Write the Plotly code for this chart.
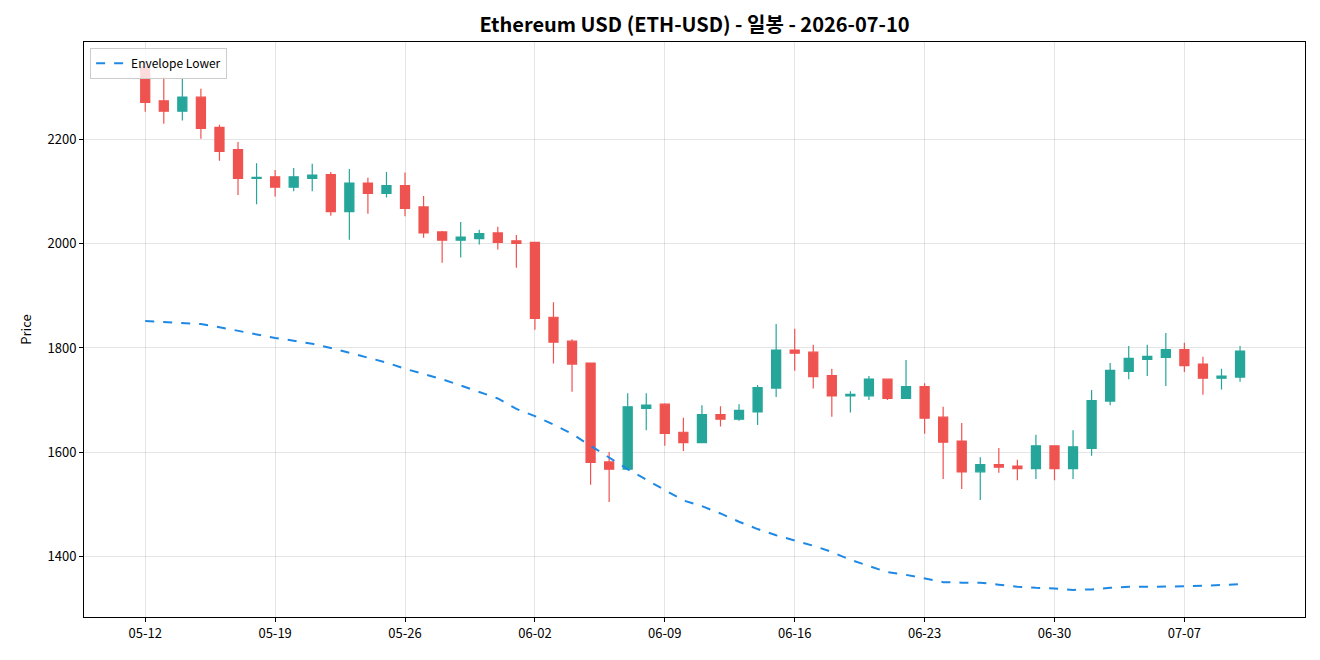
import plotly.graph_objects as go
import pandas as pd

dates = pd.date_range("2026-05-12", "2026-07-10", freq="D")

opens = [2340, 2275, 2255, 2282, 2224, 2181, 2126, 2129, 2109, 2126,
         2133, 2062, 2117, 2097, 2112, 2071, 2023, 2007, 2010, 2021,
         2006, 2003, 1859, 1813, 1771, 1581, 1567, 1684, 1692, 1638,
         1618, 1672, 1663, 1677, 1723, 1796, 1792, 1747, 1708, 1708,
         1740, 1703, 1726, 1667, 1621, 1562, 1576, 1573, 1568, 1612,
         1568, 1607, 1698, 1755, 1778, 1782, 1797, 1769, 1742, 1744]
highs = [2352, 2321, 2317, 2298, 2229, 2196, 2155, 2142, 2146, 2154,
         2138, 2144, 2127, 2138, 2137, 2092, 2025, 2042, 2027, 2033,
         2017, 2004, 1888, 1817, 1772, 1600, 1713, 1713, 1694, 1666,
         1690, 1688, 1692, 1729, 1846, 1837, 1806, 1760, 1717, 1746,
         1740, 1777, 1732, 1687, 1656, 1590, 1608, 1585, 1633, 1612,
         1642, 1719, 1771, 1804, 1806, 1829, 1810, 1783, 1760, 1804]
lows = [2254, 2231, 2237, 2202, 2160, 2094, 2076, 2091, 2101, 2101,
        2054, 2008, 2058, 2089, 2053, 2012, 1964, 1974, 1999, 1989,
        1954, 1835, 1770, 1716, 1537, 1504, 1565, 1642, 1612, 1602,
        1617, 1649, 1660, 1652, 1706, 1756, 1722, 1668, 1676, 1700,
        1700, 1702, 1635, 1548, 1529, 1508, 1560, 1546, 1548, 1546,
        1548, 1593, 1690, 1740, 1746, 1727, 1754, 1710, 1720, 1735]
closes = [2272, 2255, 2282, 2222, 2178, 2126, 2128, 2109, 2129, 2132,
          2062, 2117, 2097, 2112, 2068, 2021, 2007, 2013, 2020, 2003,
          2001, 1857, 1811, 1769, 1580, 1567, 1687, 1690, 1636, 1618,
          1672, 1663, 1680, 1724, 1796, 1790, 1745, 1708, 1711, 1740,
          1703, 1726, 1665, 1619, 1562, 1576, 1571, 1568, 1612, 1568,
          1610, 1699, 1757, 1780, 1784, 1797, 1766, 1742, 1746, 1794]

env_lower = [1852, 1850, 1848, 1846, 1840, 1833, 1826, 1819, 1814, 1808,
             1800, 1791, 1782, 1772, 1760, 1750, 1740, 1728, 1716, 1703,
             1683, 1669, 1653, 1635, 1612, 1590, 1567, 1547, 1527, 1507,
             1496, 1482, 1466, 1452, 1440, 1430, 1420, 1408, 1393, 1381,
             1369, 1364, 1357, 1350, 1349, 1349, 1345, 1341, 1339, 1338,
             1335, 1336, 1339, 1341, 1341, 1341, 1342, 1343, 1344, 1346]

tick_vals = pd.date_range("2026-05-12", "2026-07-07", freq="7D")
tick_text = [d.strftime("%m-%d") for d in tick_vals]
y_ticks = [1400, 1600, 1800, 2000, 2200]

fig = go.Figure()
fig.add_trace(go.Candlestick(
    x=dates, open=opens, high=highs, low=lows, close=closes,
    increasing=dict(line=dict(color="#26a69a", width=1.2), fillcolor="#26a69a"),
    decreasing=dict(line=dict(color="#ef5350", width=1.2), fillcolor="#ef5350"),
    whiskerwidth=0, showlegend=False, name="ETH-USD",
))
fig.add_trace(go.Scatter(
    x=dates, y=env_lower, mode="lines", name="Envelope Lower",
    line=dict(color="#1e88e5", width=2, dash="dash"),
))

font_family = "Noto Sans CJK KR, Noto Sans, DejaVu Sans, sans-serif"
fig.update_layout(
    width=1320, height=660,
    margin=dict(l=84, r=15, t=42, b=43),
    paper_bgcolor="white", plot_bgcolor="white",
    font=dict(family=font_family, size=13, color="#000"),
    title=dict(text="<b>Ethereum USD (ETH-USD) - 일봉 - 2026-07-10</b>",
               x=0.5, xref="paper", xanchor="center", y=0.962, yanchor="middle",
               font=dict(size=20, family=font_family)),
    legend=dict(x=0.005, y=0.99, xanchor="left", yanchor="top",
                bgcolor="rgba(255,255,255,0.8)", bordercolor="#cccccc", borderwidth=1,
                font=dict(size=12)),
    xaxis=dict(
        type="date", rangeslider=dict(visible=False),
        range=["2026-05-08 16:48", "2026-07-13 12:00"],
        tickvals=list(tick_vals), ticktext=tick_text,
        showgrid=True, gridcolor="rgba(0,0,0,0.1)", gridwidth=1,
        showline=True, linecolor="black", linewidth=1, mirror=True,
        ticks="outside", ticklen=4, tickcolor="black", zeroline=False,
        tickfont=dict(size=13),
    ),
    yaxis=dict(
        range=[1283, 2388], tickvals=y_ticks,
        title=dict(text="Price", standoff=12, font=dict(size=13)),
        showgrid=True, gridcolor="rgba(0,0,0,0.1)", gridwidth=1,
        showline=True, linecolor="black", linewidth=1, mirror=True,
        ticks="outside", ticklen=4, tickcolor="black", zeroline=False,
        tickfont=dict(size=13),
    ),
)

fig.write_html("out.html")
